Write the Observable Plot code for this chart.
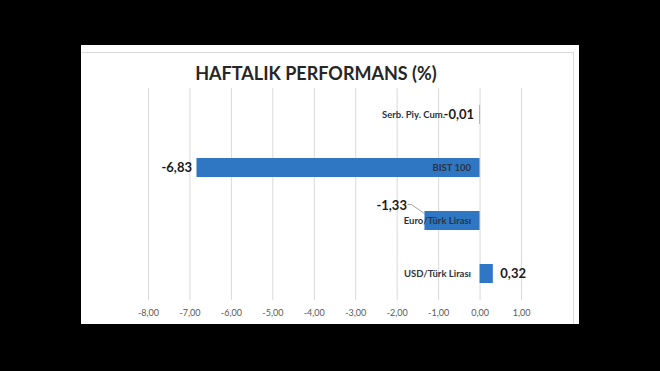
<!DOCTYPE html>
<html><head><meta charset="utf-8">
<script src="https://cdn.jsdelivr.net/npm/d3@7"></script>
<script src="https://cdn.jsdelivr.net/npm/@observablehq/plot@0.6"></script>
<style>
html,body{margin:0;padding:0;background:#000;width:660px;height:371px;overflow:hidden;}
#panel{position:absolute;left:81px;top:45px;width:498px;height:279px;background:#fff;}
#inner{position:absolute;left:0;top:7px;width:493px;height:272px;border-top:1px solid #dcdcdc;border-right:1px solid #dcdcdc;box-sizing:border-box;}
#title{position:absolute;left:0;top:15px;width:470px;text-align:center;font:bold 18px Lato,sans-serif;color:#262626;line-height:26px;}
#chart{position:absolute;left:0;top:35px;}
</style></head><body>
<div id="panel"><div id="inner"></div><div id="title">HAFTALIK PERFORMANS (%)</div><div id="chart"></div></div>
<script>
const categories = ["Serb. Piy. Cum.", "BIST 100", "Euro/Türk Lirası", "USD/Türk Lirası"];
const values = [-0.01, -6.83, -1.33, 0.32];
const xTicks = [-8, -7, -6, -5, -4, -3, -2, -1, 0, 1];

const data = categories.map((cat, i) => ({cat, value: values[i]}));
const fmt = v => v.toFixed(2).replace(".", ",");
const font = "Lato";
const barColor = "#2f77c2";

const catLabelStyle = {textAnchor: "end", fontWeight: "bold", fontSize: 9.5, fill: "#2b3344"};
const valStyle = {fontWeight: "bold", fontSize: 13, fill: "#1a1a1a"};

const plot = Plot.plot({
  width: 498,
  height: 244,
  marginLeft: 67,
  marginRight: 58,
  marginTop: 8,
  marginBottom: 24,
  style: {fontFamily: font, fontSize: "9px", color: "#595959", background: "transparent"},
  x: {domain: [-8, 1], ticks: xTicks, tickFormat: fmt, tickSize: 0, tickPadding: 9, label: null},
  y: {domain: categories, paddingInner: 0.64, paddingOuter: 0.32, axis: null},
  marks: [
    Plot.gridX(xTicks, {stroke: "#d9d9d9", strokeOpacity: 1}),
    Plot.barX(data, {x: "value", y: "cat", fill: barColor}),
    // category labels
    Plot.text(data.filter((d, i) => i === 0), {x: () => 0, y: "cat", text: "cat", dx: -35, ...catLabelStyle}),
    Plot.text(data.filter((d, i) => i > 0), {x: () => 0, y: "cat", text: "cat", dx: -9, ...catLabelStyle}),
    // value labels
    Plot.text(data.filter((d, i) => i === 0), {x: () => 0, y: "cat", text: d => fmt(d.value), textAnchor: "end", dx: -6, ...valStyle}),
    Plot.text(data.filter((d, i) => i === 1), {x: "value", y: "cat", text: d => fmt(d.value), textAnchor: "end", dx: -5, ...valStyle}),
    Plot.text(data.filter((d, i) => i === 2), {x: "value", y: "cat", text: d => fmt(d.value), textAnchor: "end", dx: -18, dy: -15, ...valStyle}),
    Plot.text(data.filter((d, i) => i === 3), {x: "value", y: "cat", text: d => fmt(d.value), textAnchor: "start", dx: 7, ...valStyle})
  ]
});
document.getElementById("chart").appendChild(plot);

// leader line for the Euro label, positioned through the plot's own scales
const xs = plot.scale("x"), ys = plot.scale("y");
const e = data[2];
const x0 = xs.apply(e.value), yc = ys.apply(e.cat) + ys.bandwidth / 2;
d3.select(plot).append("path")
  .attr("d", `M${x0 - 17},${yc - 16}L${x0 - 13},${yc - 16}L${x0},${yc - 7}`)
  .attr("fill", "none").attr("stroke", "#8c8c8c").attr("stroke-width", 0.8);
</script>
</body></html>
